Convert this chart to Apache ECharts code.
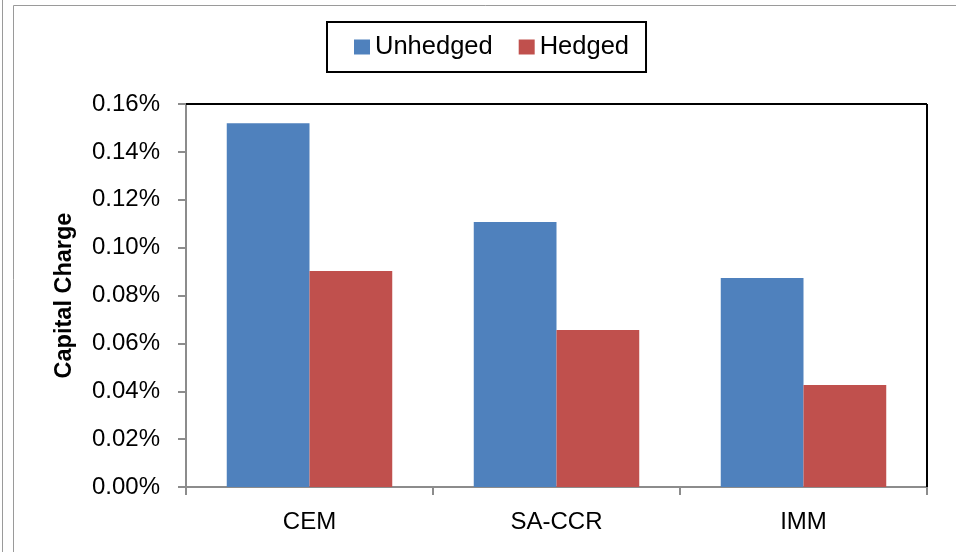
<!DOCTYPE html>
<html>
<head>
<meta charset="utf-8">
<script src="https://cdn.jsdelivr.net/npm/echarts@6/dist/echarts.min.js"></script>
<style>
  html, body { margin: 0; padding: 0; background: #fff; }
  #chart { width: 956px; height: 552px; }
</style>
</head>
<body>
<div id="chart"></div>
<script>
// Capital charge (%) by exposure method
const categories = ['CEM', 'SA-CCR', 'IMM'];
const unhedged = [0.152, 0.1107, 0.0873];
const hedged = [0.0902, 0.0656, 0.0426];
const seriesNames = ['Unhedged', 'Hedged'];
const colors = ['#4F81BD', '#C0504D'];

const FONT = '"Liberation Sans", Arial, sans-serif';

const chart = echarts.init(document.getElementById('chart'));
chart.setOption({
  animation: false,
  textStyle: { fontFamily: FONT },
  graphic: [
    { type: 'line', shape: { x1: 2.5, y1: 0, x2: 2.5, y2: 552 }, style: { stroke: '#9a9a9a', lineWidth: 1 } },
    { type: 'rect', shape: { x: 13.5, y: 5.5, width: 960, height: 560 }, style: { fill: 'none', stroke: '#9a9a9a', lineWidth: 1 } },
    { type: 'line', shape: { x1: 186, y1: 104, x2: 927, y2: 104 }, style: { stroke: '#000', lineWidth: 2 }, z: 10 },
    { type: 'line', shape: { x1: 927, y1: 104, x2: 927, y2: 487 }, style: { stroke: '#000', lineWidth: 2 }, z: 10 }
  ],
  legend: {
    top: 22,
    left: 327,
    itemWidth: 16,
    itemHeight: 15,
    itemGap: 26,
    padding: [12, 17, 12, 27],
    borderColor: '#000',
    borderWidth: 2,
    borderRadius: 0,
    icon: 'rect',
    textStyle: { fontSize: 25.5, color: '#000', fontFamily: FONT },
    data: seriesNames
  },
  grid: { left: 186, right: 29, top: 104, bottom: 65, containLabel: false },
  xAxis: {
    type: 'category',
    data: categories,
    axisLine: { lineStyle: { color: '#8c8c8c', width: 2 } },
    axisTick: { show: true, length: 8, lineStyle: { color: '#8c8c8c', width: 2 } },
    axisLabel: { fontSize: 24, color: '#000', margin: 23, fontFamily: FONT }
  },
  yAxis: {
    type: 'value',
    min: 0,
    max: 0.16,
    interval: 0.02,
    name: 'Capital Charge',
    nameLocation: 'middle',
    nameGap: 109,
    nameTextStyle: { fontSize: 23.5, fontWeight: 'bold', color: '#000', fontFamily: FONT },
    axisLine: { show: true, lineStyle: { color: '#8c8c8c', width: 2 } },
    axisTick: { show: true, length: 8, lineStyle: { color: '#8c8c8c', width: 2 } },
    splitLine: { show: false },
    axisLabel: {
      fontSize: 24, color: '#000', margin: 26, fontFamily: FONT,
      formatter: v => v.toFixed(2) + '%'
    }
  },
  series: [
    { name: seriesNames[0], type: 'bar', data: unhedged, itemStyle: { color: colors[0] }, barGap: '0%', barCategoryGap: '33%' },
    { name: seriesNames[1], type: 'bar', data: hedged, itemStyle: { color: colors[1] }, barGap: '0%', barCategoryGap: '33%' }
  ]
});
</script>
</body>
</html>
